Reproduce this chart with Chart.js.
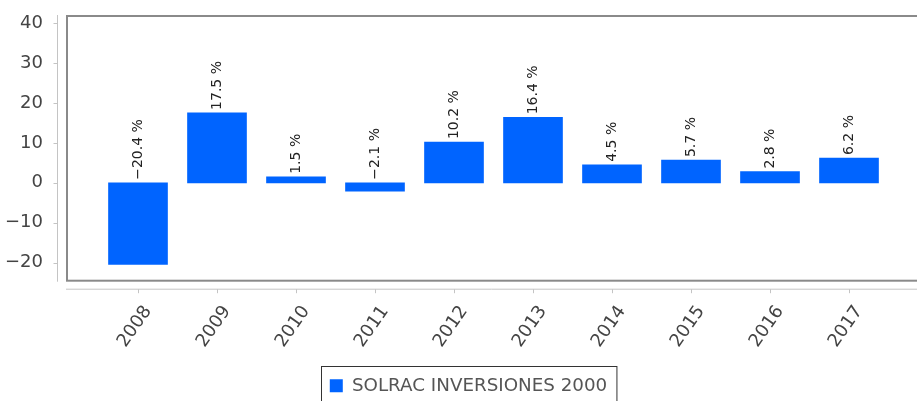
<!DOCTYPE html>
<html>
<head>
<meta charset="utf-8">
<script src="https://cdn.jsdelivr.net/npm/chart.js@4.4.1/dist/chart.umd.min.js"></script>
<style>
html, body { margin: 0; padding: 0; background: #fff; }
#wrap { width: 917px; height: 401px; position: relative; }
</style>
</head>
<body>
<div id="wrap"><canvas id="returnsChart"></canvas></div>
<script>
// Chart data
const years = ['2008', '2009', '2010', '2011', '2012', '2013', '2014', '2015', '2016', '2017'];
const returns = [-20.4, 17.5, 1.5, -2.1, 10.2, 16.4, 4.5, 5.7, 2.8, 6.2];
const yTicks = [-20, -10, 0, 10, 20, 30, 40];
const seriesName = 'SOLRAC INVERSIONES 2000';

// Use a real minus sign like the original
function fmt(v) {
    return String(v).replace('-', '\u2212');
}

function strokeLine(ctx, x1, y1, x2, y2) {
    ctx.beginPath();
    ctx.moveTo(x1, y1);
    ctx.lineTo(x2, y2);
    ctx.stroke();
}

// Frame around the plot plus axes drawn a little outside of it
const frameAndAxes = {
    id: 'frameAndAxes',
    afterLayout(chart) {
        // legend sits a bit right of the canvas centre
        chart.legend.left += 20;
    },
    beforeDatasetsDraw(chart) {
        const { ctx, chartArea: a, scales: { x, y } } = chart;
        ctx.save();
        ctx.strokeStyle = '#8a8a8a';
        ctx.lineWidth = 2;
        ctx.strokeRect(a.left + 1, a.top + 1, a.right - a.left + 4, a.bottom - a.top - 2);

        ctx.strokeStyle = '#c4c4c4';
        ctx.lineWidth = 1;
        const ax = a.left - 8.5;
        strokeLine(ctx, ax, a.top, ax, a.bottom);
        y.ticks.forEach(t => {
            const py = Math.round(y.getPixelForValue(t.value)) + 0.5;
            strokeLine(ctx, ax - 4, py, ax, py);
        });

        const ay = a.bottom + 7.5;
        strokeLine(ctx, a.left, ay, a.right, ay);
        x.ticks.forEach(t => {
            const px = Math.round(x.getPixelForValue(t.value)) + 0.5;
            strokeLine(ctx, px, ay, px, ay + 4);
        });
        ctx.restore();
    },
    afterDatasetsDraw(chart) {
        const { ctx, scales: { y } } = chart;
        const meta = chart.getDatasetMeta(0);
        ctx.save();
        ctx.font = '14px "DejaVu Sans"';
        ctx.fillStyle = '#222';
        ctx.textAlign = 'left';
        ctx.textBaseline = 'middle';
        meta.data.forEach((bar, i) => {
            const v = returns[i];
            const py = y.getPixelForValue(Math.max(v, 0)) - 3;
            ctx.save();
            ctx.translate(bar.x, py);
            ctx.rotate(-Math.PI / 2);
            ctx.fillText(fmt(v.toFixed(1)) + ' %', 0, 0);
            ctx.restore();
        });
        ctx.restore();
    },
    afterDraw(chart) {
        // border round the legend item
        const hb = chart.legend.legendHitBoxes[0];
        const ctx = chart.ctx;
        ctx.save();
        ctx.strokeStyle = '#333';
        ctx.lineWidth = 1;
        ctx.strokeRect(Math.round(hb.left) - 8.5, Math.round(hb.top) - 10.5, hb.width + 18, 60);
        ctx.restore();
    }
};

Chart.defaults.font.family = '"DejaVu Sans"';

const ctx = document.getElementById('returnsChart').getContext('2d');
new Chart(ctx, {
    type: 'bar',
    data: {
        datasets: [{
            label: seriesName,
            data: years.map((_, i) => ({ x: i, y: returns[i] })),
            backgroundColor: '#0064ff',
            borderWidth: 0,
            barThickness: 59
        }]
    },
    options: {
        responsive: true,
        maintainAspectRatio: false,
        animation: false,
        layout: { padding: { top: 15, left: 0, right: 0, bottom: -4 } },
        scales: {
            x: {
                type: 'linear',
                offset: false,
                min: -72 / 79,
                max: 9 + 68 / 79,
                grid: { display: false, drawTicks: false },
                border: { display: false },
                afterBuildTicks: s => { s.ticks = years.map((_, i) => ({ value: i })); },
                afterFit: s => { s.height = 85; s.paddingLeft = 0; s.paddingRight = 0; },
                ticks: {
                    autoSkip: false,
                    minRotation: 55,
                    maxRotation: 55,
                    padding: 20,
                    labelOffset: 10,
                    color: '#444',
                    font: { size: 18 },
                    callback: v => years[v] ?? ''
                }
            },
            y: {
                min: -24.75,
                max: 42,
                grid: { display: false, drawTicks: false },
                border: { display: false },
                afterBuildTicks: s => { s.ticks = yTicks.map(v => ({ value: v })); },
                afterFit: s => { s.width = 66; s.paddingTop = 0; s.paddingBottom = 0; },
                ticks: {
                    padding: 23,
                    color: '#444',
                    font: { size: 18 },
                    callback: v => fmt(v)
                }
            }
        },
        plugins: {
            tooltip: { enabled: false },
            legend: {
                position: 'bottom',
                labels: {
                    boxWidth: 13,
                    boxHeight: 13,
                    padding: 10,
                    color: '#555',
                    font: { size: 18.3 }
                }
            }
        }
    },
    plugins: [frameAndAxes]
});
</script>
</body>
</html>
